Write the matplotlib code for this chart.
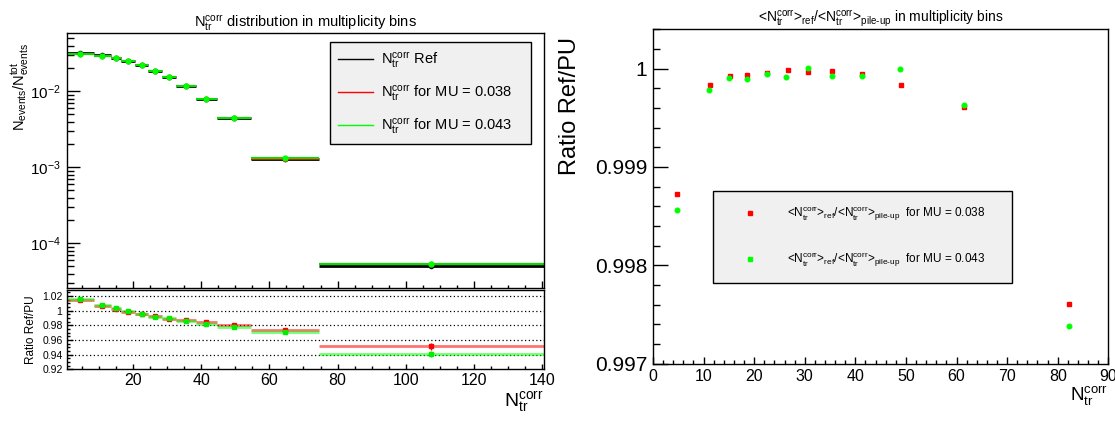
import numpy as np
import matplotlib.pyplot as plt
from matplotlib.lines import Line2D
from matplotlib.ticker import MultipleLocator, FixedLocator, FixedFormatter, LogLocator, NullFormatter

plt.rcParams['font.family'] = ['Liberation Sans', 'DejaVu Sans']
plt.rcParams['mathtext.fontset'] = 'custom'
plt.rcParams['mathtext.rm'] = 'Liberation Sans'
plt.rcParams['mathtext.it'] = 'Liberation Sans:italic'

# multiplicity bins (N_tr^corr)
bin_edges = np.array([0.5, 8.5, 13.5, 16.5, 20.5, 24.5, 28.5, 32.5, 38.5, 44.5, 54.5, 74.5, 140.5])

# fraction of events per bin
frac_ref = [0.0315, 0.0296, 0.0273, 0.0248, 0.0219, 0.01855, 0.01524, 0.01159, 0.00786, 0.00440, 0.00127, 5.03e-5]
frac_mu038 = [0.0310, 0.0294, 0.0272, 0.0248, 0.0220, 0.0187, 0.0154, 0.01173, 0.00798, 0.00449, 0.00130, 5.29e-5]
frac_mu043 = [0.0310, 0.0294, 0.0272, 0.0248, 0.0220, 0.0187, 0.0154, 0.01175, 0.00800, 0.00450, 0.00131, 5.35e-5]

# ratio Ref/PU per bin
ratio_mu038 = [1.0146, 1.0070, 1.0030, 0.9985, 0.9955, 0.9930, 0.9890, 0.9880, 0.9850, 0.9807, 0.9740, 0.9515]
ratio_mu043 = [1.0160, 1.0075, 1.0035, 1.0000, 0.9960, 0.9918, 0.9896, 0.9866, 0.9820, 0.9784, 0.9713, 0.9412]
ratio_err = [0.002, 0.0015, 0.0015, 0.0015, 0.0015, 0.0015, 0.0015, 0.0015, 0.002, 0.002, 0.0025, 0.0045]

# <N>_ref / <N>_pile-up per bin
mean_x_038 = [4.74, 11.2, 15.2, 18.5, 22.6, 26.6, 30.6, 35.4, 41.3, 49.0, 61.5, 82.3]
mean_ratio_038 = [0.998722, 0.999837, 0.999929, 0.999936, 0.999956, 0.99999, 0.999966, 0.999976,
                  0.999946, 0.999837, 0.999607, 0.997607]
mean_x_043 = [4.8, 11.1, 15.1, 18.6, 22.6, 26.3, 30.6, 35.4, 41.3, 48.9, 61.5, 82.3]
mean_ratio_043 = [0.998563, 0.999786, 0.999908, 0.999895, 0.999942, 0.999919, 1.000003, 0.999929,
                  0.999922, 0.999997, 0.999634, 0.997386]

NCORR = r'$\mathregular{N_{tr}^{corr}}$'
MEANR = r'$\mathregular{\text{<}N_{tr}^{corr}\text{>}_{ref}/\text{<}N_{tr}^{corr}\text{>}_{\text{pile-up}}}$'

W, H = 1115, 421
fig = plt.figure(figsize=(W / 100, H / 100), dpi=100)


def px_axes(x0, y0, x1, y1):
    return fig.add_axes([x0 / W, 1 - y1 / H, (x1 - x0) / W, (y1 - y0) / H])


def root_ticks(ax, xmaj, xmin, ymaj, ymin):
    ax.tick_params(which='both', direction='in', top=False, right=False, width=1.0)
    ax.tick_params(axis='x', which='major', length=xmaj)
    ax.tick_params(axis='x', which='minor', length=xmin)
    ax.tick_params(axis='y', which='major', length=ymaj)
    ax.tick_params(axis='y', which='minor', length=ymin)
    for s in ax.spines.values():
        s.set_linewidth(1.0)


ax_top = px_axes(66.7, 32.7, 543.7, 288.3)
ax_rat = px_axes(66.7, 290.3, 543.7, 369.3)
ax_r = px_axes(653, 29.3, 1108.3, 363.7)

lo, hi = bin_edges[:-1], bin_edges[1:]
centers = 0.5 * (lo + hi)

# ---- top panel: distribution
ax_top.set_yscale('log')
ax_top.hlines(frac_ref, lo, hi, color='black', lw=2)
ax_top.hlines(frac_mu038, lo, hi, color='red', lw=1.5)
ax_top.hlines(frac_mu043, lo, hi, color='#00e000', lw=1.5)
ax_top.plot(centers, frac_ref, 'o', color='black', ms=3)
ax_top.plot(centers, frac_mu038, 'o', color='red', ms=3)
ax_top.plot(centers, frac_mu043, 'o', color='#00ff00', ms=3.5)
ax_top.set_xlim(0.5, 140.5)
ax_top.set_ylim(2.56e-5, 0.059)
ax_top.xaxis.set_major_locator(MultipleLocator(20))
ax_top.xaxis.set_minor_locator(MultipleLocator(5))
ax_top.set_xticklabels([])
ax_top.yaxis.set_major_locator(FixedLocator([1e-4, 1e-3, 1e-2]))
ax_top.yaxis.set_major_formatter(FixedFormatter([r'$\mathregular{10^{-4}}$', r'$\mathregular{10^{-3}}$',
                                                 r'$\mathregular{10^{-2}}$']))
ax_top.yaxis.set_minor_locator(LogLocator(base=10, subs=np.arange(2, 10)))
ax_top.yaxis.set_minor_formatter(NullFormatter())
root_ticks(ax_top, 4.8, 2.4, 9.6, 5.3)
ax_top.tick_params(axis='y', labelsize=11, pad=4)
ax_top.set_title(NCORR + ' distribution in multiplicity bins', fontsize=10.5, pad=4)
fig.text(20 / W, 1 - 43 / H, r'$\mathregular{N_{events}/N_{events}^{tot}}$', rotation=90,
         ha='center', va='top', fontsize=10.5)

handles = [Line2D([], [], color='black', lw=1), Line2D([], [], color='red', lw=1),
           Line2D([], [], color='#00ff00', lw=1)]
labels = [NCORR + ' Ref', NCORR + ' for MU = 0.038', NCORR + ' for MU = 0.043']
leg = ax_top.legend(handles, labels, loc='upper left',
                    bbox_to_anchor=(330.4 / W, 1 - 41.7 / H, (531 - 330.4) / W, 0),
                    bbox_transform=fig.transFigure, mode='expand', borderaxespad=0,
                    fontsize=10.5, handlelength=2.4, handletextpad=0.5, labelspacing=0.9,
                    fancybox=False, framealpha=1, facecolor='#f0f0f0', edgecolor='black',
                    borderpad=0.55)
leg.get_frame().set_linewidth(1.0)

# ---- ratio panel
for v in [0.94, 0.96, 0.98, 1.0, 1.02]:
    ax_rat.axhline(v, color='black', lw=0.9, ls=(0, (1, 2)))
ax_rat.hlines(ratio_mu038, lo, hi, color='red', lw=2, alpha=0.55)
ax_rat.hlines(ratio_mu043, lo, hi, color='#00ff00', lw=2, alpha=0.55)
ax_rat.errorbar(centers, ratio_mu038, yerr=ratio_err, fmt='s', color='red', ms=2.5, lw=1, capsize=0)
ax_rat.errorbar(centers, ratio_mu043, yerr=ratio_err, fmt='s', color='#00ee00', ms=2.5, lw=1, capsize=0)
ax_rat.set_xlim(0.5, 140.5)
ax_rat.set_ylim(0.92, 1.028)
ax_rat.xaxis.set_major_locator(MultipleLocator(20))
ax_rat.xaxis.set_minor_locator(MultipleLocator(5))
ax_rat.yaxis.set_major_locator(FixedLocator([0.92, 0.94, 0.96, 0.98, 1.0, 1.02]))
ax_rat.yaxis.set_major_formatter(FixedFormatter(['0.92', '0.94', '0.96', '0.98', '1', '1.02']))
ax_rat.yaxis.set_minor_locator(MultipleLocator(0.005))
root_ticks(ax_rat, 3.3, 2, 4.5, 2.5)
ax_rat.tick_params(axis='y', labelsize=7.5, pad=3)
ax_rat.tick_params(axis='x', labelsize=11.5, pad=3)
ax_rat.set_ylabel('Ratio Ref/PU', fontsize=8.5, labelpad=4)
ax_rat.set_xlabel(NCORR, fontsize=14, loc='right', labelpad=1)

# ---- right panel: mean ratio
ax_r.plot(mean_x_038, mean_ratio_038, 's', color='red', ms=3.0)
ax_r.plot(mean_x_043, mean_ratio_043, 'o', color='#00ff00', ms=3.3)
ax_r.set_xlim(0, 90)
ax_r.set_ylim(0.997, 1.0004)
ax_r.xaxis.set_major_locator(MultipleLocator(10))
ax_r.xaxis.set_minor_locator(MultipleLocator(2))
ax_r.yaxis.set_major_locator(FixedLocator([0.997, 0.998, 0.999, 1.0]))
ax_r.yaxis.set_major_formatter(FixedFormatter(['0.997', '0.998', '0.999', '1']))
ax_r.yaxis.set_minor_locator(MultipleLocator(0.0002))
root_ticks(ax_r, 5, 3, 10.6, 5.3)
ax_r.tick_params(axis='y', labelsize=15, pad=4)
ax_r.tick_params(axis='x', labelsize=11.5, pad=4)
fig.text(570 / W, 1 - 36.7 / H, 'Ratio Ref/PU', rotation=90, ha='center', va='top', fontsize=17)
ax_r.set_xlabel(NCORR, fontsize=13.5, loc='right', labelpad=0)
ax_r.set_title(MEANR + ' in multiplicity bins', fontsize=10, pad=5)

rhandles = [Line2D([], [], ls='none', marker='s', color='red', ms=3.5),
            Line2D([], [], ls='none', marker='s', color='#00ff00', ms=3.5)]
rlabels = [MEANR + '  for MU = 0.038', MEANR + '  for MU = 0.043']
rleg = ax_r.legend(rhandles, rlabels, loc='upper left',
                   bbox_to_anchor=(713 / W, 1 - 190.7 / H, (1012 - 713) / W, 0),
                   bbox_transform=fig.transFigure, mode='expand', borderaxespad=0,
                   fontsize=8.5, handlelength=3.9, handletextpad=1.15, labelspacing=2.3,
                   fancybox=False, framealpha=1, facecolor='#f0f0f0', edgecolor='black',
                   borderpad=1.2)
rleg.get_frame().set_linewidth(1.0)

fig.savefig('out.png', dpi=100)
